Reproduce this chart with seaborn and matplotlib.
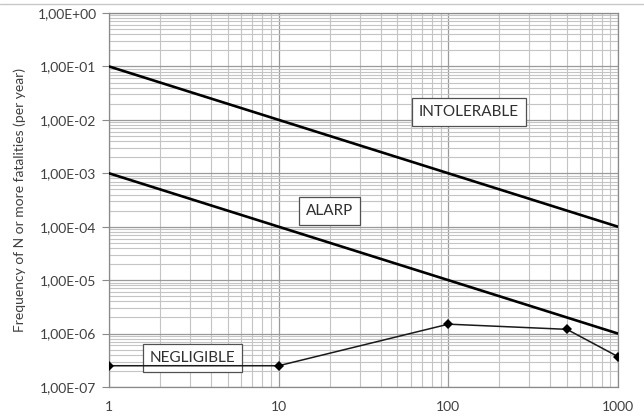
import numpy as np
import pandas as pd
import seaborn as sns
import matplotlib
matplotlib.use("Agg")
import matplotlib.pyplot as plt
from matplotlib.ticker import FixedLocator, FuncFormatter, NullFormatter, LogLocator
from matplotlib.lines import Line2D

# F-N curve data: number of fatalities N vs cumulative frequency
n_fatalities = [1, 10, 100, 500, 1000]
frequency = [2.5e-7, 2.5e-7, 1.5e-6, 1.2e-6, 3.7e-7]

# Tolerability criterion lines (end points)
limit_n = [1, 1000]
upper_limit = [1e-1, 1e-4]
lower_limit = [1e-3, 1e-6]

# Region labels and their anchor positions
region_labels = ["INTOLERABLE", "ALARP", "NEGLIGIBLE"]
region_x = [132, 20, 3.1]
region_y = [0.0140, 2.0e-4, 3.5e-7]

x_ticks = [1, 10, 100, 1000]
y_ticks = [1e-7, 1e-6, 1e-5, 1e-4, 1e-3, 1e-2, 1e-1, 1e0]
y_label = "Frequency of N or more fatalities (per year)"

sns.set_style("white")
plt.rcParams["font.family"] = ["Lato", "DejaVu Sans"]

fig = plt.figure(figsize=(6.44, 4.16), dpi=100)
ax = fig.add_axes([109 / 644, 1 - 387 / 416, (618 - 109) / 644, (387 - 13) / 416])

limits = pd.DataFrame({
    "N": limit_n * 2,
    "F": upper_limit + lower_limit,
    "line": ["upper"] * 2 + ["lower"] * 2,
})
fn = pd.DataFrame({"N": n_fatalities, "F": frequency})

ax.set_xscale("log")
ax.set_yscale("log")

sns.lineplot(data=limits, x="N", y="F", units="line", estimator=None,
             color="black", linewidth=1.9, ax=ax, zorder=4)
sns.lineplot(data=fn, x="N", y="F", color="#1a1a1a", linewidth=1.1,
             marker="D", markersize=5, markeredgewidth=0,
             markerfacecolor="black", ax=ax, zorder=5)

ax.set_xlim(1, 1000)
ax.set_ylim(1e-7, 1)

ax.xaxis.set_major_locator(FixedLocator(x_ticks))
ax.xaxis.set_major_formatter(FuncFormatter(lambda v, p: f"{v:g}"))
ax.xaxis.set_minor_locator(LogLocator(base=10, subs=np.arange(2, 10), numticks=20))
ax.xaxis.set_minor_formatter(NullFormatter())
ax.yaxis.set_major_locator(FixedLocator(y_ticks))
ax.yaxis.set_major_formatter(FuncFormatter(lambda v, p: f"{v:.2E}".replace(".", ",")))
ax.yaxis.set_minor_locator(LogLocator(base=10, subs=np.arange(2, 10), numticks=20))
ax.yaxis.set_minor_formatter(NullFormatter())

ax.grid(which="major", color="#9a9a9a", linewidth=0.9, zorder=0)
ax.grid(which="minor", color="#c4c4c4", linewidth=0.8, zorder=0)
ax.set_axisbelow(True)

ax.tick_params(axis="y", which="major", length=5, width=0.8, color="#8a8a8a",
               labelsize=10, labelcolor="#404040", pad=4, left=True)
ax.tick_params(axis="x", which="major", length=0, labelsize=10,
               labelcolor="#404040", pad=10)
ax.tick_params(which="minor", length=0)

for side in ["top", "right", "bottom", "left"]:
    ax.spines[side].set_color("#8a8a8a")
    ax.spines[side].set_linewidth(0.9)

ax.set_xlabel("")
ax.set_ylabel(y_label, fontsize=10, color="#404040", labelpad=8)

for label, x, y in zip(region_labels, region_x, region_y):
    ax.text(x, y, label, ha="center", va="center", fontsize=11, color="#303030",
            zorder=3,
            bbox=dict(boxstyle="square,pad=0.45", facecolor="white",
                      edgecolor="#505050", linewidth=0.9))

# thin chart border line along the top
fig.add_artist(Line2D([0, 1], [1 - 4 / 416, 1 - 4 / 416],
                      transform=fig.transFigure, color="#c8c8c8", linewidth=1))

fig.savefig("out.png", dpi=100, facecolor="white")
